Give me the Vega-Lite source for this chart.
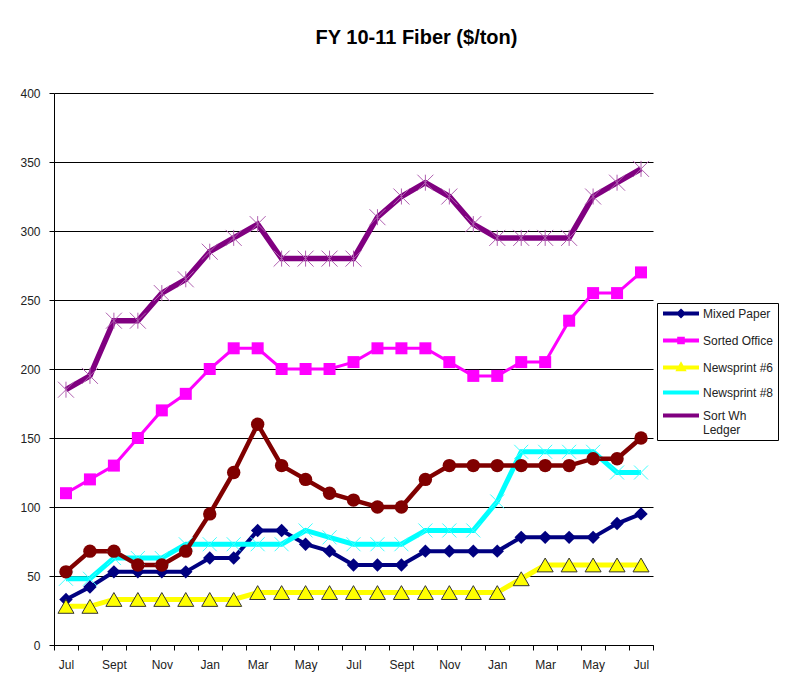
{
  "$schema": "https://vega.github.io/schema/vega-lite/v6.json",
  "autosize": {"type": "none"},
  "width": 599,
  "height": 552,
  "padding": {"left": 54, "top": 93, "right": 150, "bottom": 46},
  "background": "white",
  "config": {
    "font": "Liberation Sans",
    "view": {"stroke": null},
    "axis": {"labelFont": "Liberation Sans", "labelFontSize": 12, "labelColor": "#222", "domainColor": "#000", "tickColor": "#000", "tickSize": 5, "title": null}
  },
  "title": {
    "text": "FY 10-11 Fiber ($/ton)",
    "fontSize": 20,
    "fontWeight": "bold",
    "color": "#000",
    "anchor": "middle",
    "frame": "group",
    "dx": 63,
    "offset": 39
  },
  "data": {
    "values": [
      {"month": "Jul 09", "Mixed Paper": 33, "Sorted Office": 110, "Newsprint #6": 28, "Newsprint #8": 48, "Sort Wh Ledger": 185, "Other": 53},
      {"month": "Aug 09", "Mixed Paper": 42, "Sorted Office": 120, "Newsprint #6": 28, "Newsprint #8": 48, "Sort Wh Ledger": 195, "Other": 68},
      {"month": "Sept 09", "Mixed Paper": 53, "Sorted Office": 130, "Newsprint #6": 33, "Newsprint #8": 63, "Sort Wh Ledger": 235, "Other": 68},
      {"month": "Oct 09", "Mixed Paper": 53, "Sorted Office": 150, "Newsprint #6": 33, "Newsprint #8": 63, "Sort Wh Ledger": 235, "Other": 58},
      {"month": "Nov 09", "Mixed Paper": 53, "Sorted Office": 170, "Newsprint #6": 33, "Newsprint #8": 63, "Sort Wh Ledger": 255, "Other": 58},
      {"month": "Dec 09", "Mixed Paper": 53, "Sorted Office": 182, "Newsprint #6": 33, "Newsprint #8": 73, "Sort Wh Ledger": 265, "Other": 68},
      {"month": "Jan 10", "Mixed Paper": 63, "Sorted Office": 200, "Newsprint #6": 33, "Newsprint #8": 73, "Sort Wh Ledger": 285, "Other": 95},
      {"month": "Feb 10", "Mixed Paper": 63, "Sorted Office": 215, "Newsprint #6": 33, "Newsprint #8": 73, "Sort Wh Ledger": 295, "Other": 125},
      {"month": "Mar 10", "Mixed Paper": 83, "Sorted Office": 215, "Newsprint #6": 38, "Newsprint #8": 73, "Sort Wh Ledger": 305, "Other": 160},
      {"month": "Apr 10", "Mixed Paper": 83, "Sorted Office": 200, "Newsprint #6": 38, "Newsprint #8": 73, "Sort Wh Ledger": 280, "Other": 130},
      {"month": "May 10", "Mixed Paper": 73, "Sorted Office": 200, "Newsprint #6": 38, "Newsprint #8": 83, "Sort Wh Ledger": 280, "Other": 120},
      {"month": "Jun 10", "Mixed Paper": 68, "Sorted Office": 200, "Newsprint #6": 38, "Newsprint #8": 78, "Sort Wh Ledger": 280, "Other": 110},
      {"month": "Jul 10", "Mixed Paper": 58, "Sorted Office": 205, "Newsprint #6": 38, "Newsprint #8": 73, "Sort Wh Ledger": 280, "Other": 105},
      {"month": "Aug 10", "Mixed Paper": 58, "Sorted Office": 215, "Newsprint #6": 38, "Newsprint #8": 73, "Sort Wh Ledger": 310, "Other": 100},
      {"month": "Sept 10", "Mixed Paper": 58, "Sorted Office": 215, "Newsprint #6": 38, "Newsprint #8": 73, "Sort Wh Ledger": 325, "Other": 100},
      {"month": "Oct 10", "Mixed Paper": 68, "Sorted Office": 215, "Newsprint #6": 38, "Newsprint #8": 83, "Sort Wh Ledger": 335, "Other": 120},
      {"month": "Nov 10", "Mixed Paper": 68, "Sorted Office": 205, "Newsprint #6": 38, "Newsprint #8": 83, "Sort Wh Ledger": 325, "Other": 130},
      {"month": "Dec 10", "Mixed Paper": 68, "Sorted Office": 195, "Newsprint #6": 38, "Newsprint #8": 83, "Sort Wh Ledger": 305, "Other": 130},
      {"month": "Jan 11", "Mixed Paper": 68, "Sorted Office": 195, "Newsprint #6": 38, "Newsprint #8": 104, "Sort Wh Ledger": 295, "Other": 130},
      {"month": "Feb 11", "Mixed Paper": 78, "Sorted Office": 205, "Newsprint #6": 48, "Newsprint #8": 140, "Sort Wh Ledger": 295, "Other": 130},
      {"month": "Mar 11", "Mixed Paper": 78, "Sorted Office": 205, "Newsprint #6": 58, "Newsprint #8": 140, "Sort Wh Ledger": 295, "Other": 130},
      {"month": "Apr 11", "Mixed Paper": 78, "Sorted Office": 235, "Newsprint #6": 58, "Newsprint #8": 140, "Sort Wh Ledger": 295, "Other": 130},
      {"month": "May 11", "Mixed Paper": 78, "Sorted Office": 255, "Newsprint #6": 58, "Newsprint #8": 140, "Sort Wh Ledger": 325, "Other": 135},
      {"month": "Jun 11", "Mixed Paper": 88, "Sorted Office": 255, "Newsprint #6": 58, "Newsprint #8": 125, "Sort Wh Ledger": 335, "Other": 135},
      {"month": "Jul 11", "Mixed Paper": 95, "Sorted Office": 270, "Newsprint #6": 58, "Newsprint #8": 125, "Sort Wh Ledger": 345, "Other": 150}
    ]
  },
  "transform": [
    {"fold": ["Mixed Paper", "Sorted Office", "Newsprint #6", "Newsprint #8", "Sort Wh Ledger", "Other"], "as": ["series", "price"]}
  ],
  "encoding": {
    "x": {
      "field": "month",
      "type": "ordinal",
      "sort": null,
      "scale": {"type": "band", "paddingInner": 0, "paddingOuter": 0},
      "axis": {
        "tickBand": "extent",
        "labelAngle": 0,
        "labelPadding": 9,
        "labelExpr": "indexof(['Jul','Sept','Nov','Jan','Mar','May'], split(datum.value, ' ')[0]) >= 0 ? split(datum.value, ' ')[0] : ''"
      }
    },
    "y": {
      "field": "price",
      "type": "quantitative",
      "scale": {"domain": [0, 400], "nice": false},
      "axis": {"values": [0, 50, 100, 150, 200, 250, 300, 350, 400], "grid": true, "gridColor": "#000", "gridOpacity": 1, "gridWidth": 1, "labelPadding": 9}
    },
    "color": {
      "field": "series",
      "type": "nominal",
      "scale": {
        "domain": ["Mixed Paper", "Sorted Office", "Newsprint #6", "Newsprint #8", "Sort Wh Ledger", "Other"],
        "range": ["#000080", "#FF00FF", "#FFFF00", "#00FFFF", "#800080", "#800000"]
      },
      "legend": {
        "values": ["Mixed Paper", "Sorted Office", "Newsprint #6", "Newsprint #8", "Sort Wh Ledger"],
        "title": null,
        "orient": "none",
        "legendX": 603,
        "legendY": 210,
        "strokeColor": "#000",
        "fillColor": "#fff",
        "padding": 4,
        "gridAlign": "none",
        "symbolType": "M-1,0H7",
        "symbolSize": 81,
        "symbolStrokeWidth": 4,
        "labelFont": "Liberation Sans",
        "labelFontSize": 12,
        "labelColor": "#222",
        "labelOffset": 29,
        "rowPadding": 6,
        "labelExpr": "datum.label == 'Sort Wh Ledger' ? ['Sort Wh', 'Ledger'] : datum.label",
        "encode": {
          "symbols": {
            "update": {
              "shape": {"signal": "datum.value == 'Mixed Paper' ? 'M-1,0H7M3,-0.5L3.5,0L3,0.5L2.5,0Z' : datum.value == 'Sorted Office' ? 'M-1,0H7M2.6,-0.4H3.4V0.4H2.6Z' : datum.value == 'Newsprint #6' ? 'M-1,0H7M3,-0.5L3.5,0.4H2.5Z' : 'M-1,0H7'"},
              "fill": {"signal": "scale('color', datum.value)"},
              "fillOpacity": {"value": 1}
            }
          }
        }
      }
    }
  },
  "layer": [
    {"transform": [{"filter": "datum.series == 'Mixed Paper'"}], "mark": {"type": "line", "strokeWidth": 4}},
    {"transform": [{"filter": "datum.series == 'Sorted Office'"}], "mark": {"type": "line", "strokeWidth": 3}},
    {"transform": [{"filter": "datum.series == 'Newsprint #6'"}], "mark": {"type": "line", "strokeWidth": 5}},
    {"transform": [{"filter": "datum.series == 'Newsprint #8'"}], "mark": {"type": "line", "strokeWidth": 5}},
    {"transform": [{"filter": "datum.series == 'Sort Wh Ledger'"}], "mark": {"type": "line", "strokeWidth": 5.5}},
    {"transform": [{"filter": "datum.series == 'Other'"}], "mark": {"type": "line", "strokeWidth": 4.5}},
    {
      "transform": [{"filter": "datum.series == 'Mixed Paper'"}],
      "mark": {"type": "point", "shape": "diamond", "filled": true, "color": "#000080", "opacity": 1, "size": 180}
    },
    {
      "transform": [{"filter": "datum.series == 'Sorted Office'"}],
      "mark": {"type": "point", "shape": "square", "filled": true, "color": "#FF00FF", "opacity": 1, "size": 144}
    },
    {
      "transform": [{"filter": "datum.series == 'Newsprint #6'"}],
      "mark": {"type": "point", "shape": "triangle-up", "filled": true, "fill": "#FFFF00", "stroke": "#333", "strokeWidth": 1, "opacity": 1, "size": 256}
    },
    {
      "transform": [{"filter": "datum.series == 'Newsprint #8'"}],
      "mark": {"type": "point", "shape": "M-1,-1L1,1M-1,1L1,-1", "filled": false, "stroke": "#40FFFF", "strokeWidth": 1, "opacity": 1, "size": 196}
    },
    {
      "transform": [{"filter": "datum.series == 'Sort Wh Ledger'"}],
      "mark": {"type": "point", "shape": "M-1,-1L1,1M-1,1L1,-1M0,-1L0,1", "filled": false, "stroke": "#B060B0", "strokeWidth": 1, "opacity": 1, "size": 256}
    },
    {
      "transform": [{"filter": "datum.series == 'Other'"}],
      "mark": {"type": "point", "shape": "circle", "filled": true, "color": "#800000", "opacity": 1, "size": 180}
    }
  ]
}
